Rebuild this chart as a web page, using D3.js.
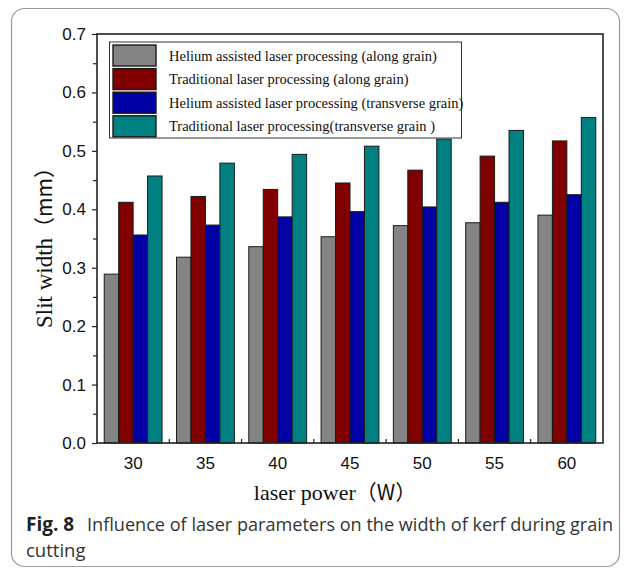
<!DOCTYPE html>
<html>
<head>
<meta charset="utf-8">
<script src="https://cdn.jsdelivr.net/npm/d3@7"></script>
<style>
  html, body { margin: 0; padding: 0; background: #fff; }
  svg { display: block; }
</style>
</head>
<body>
<svg id="chart" width="627" height="570"></svg>
<script>
// Laser power settings (W)
const powers = ["30", "35", "40", "45", "50", "55", "60"];

// Slit width (mm) per processing condition
const heliumAlong      = [0.289, 0.318, 0.336, 0.353, 0.372, 0.377, 0.390];
const traditionalAlong = [0.412, 0.422, 0.434, 0.445, 0.467, 0.491, 0.517];
const heliumTrans      = [0.356, 0.373, 0.387, 0.396, 0.404, 0.412, 0.425];
const traditionalTrans = [0.457, 0.479, 0.494, 0.508, 0.520, 0.535, 0.557];

const seriesNames = [
  "Helium assisted laser processing (along grain)",
  "Traditional laser processing (along grain)",
  "Helium assisted laser processing (transverse grain)",
  "Traditional laser processing(transverse grain )"
];
const seriesColors = ["#848484", "#800000", "#0000a4", "#008080"];
const seriesValues = [heliumAlong, traditionalAlong, heliumTrans, traditionalTrans];

const yTicks = [0.0, 0.1, 0.2, 0.3, 0.4, 0.5, 0.6, 0.7];

const svg = d3.select("#chart");

// outer figure frame
svg.append("rect")
  .attr("x", 11.5).attr("y", 8.5)
  .attr("width", 608).attr("height", 558)
  .attr("rx", 13).attr("ry", 13)
  .attr("fill", "#fff")
  .attr("stroke", "#9a9a9a")
  .attr("stroke-width", 1.2);

const plot = { left: 97, right: 603, top: 34, bottom: 443 };

const x0 = d3.scaleBand()
  .domain(powers)
  .range([plot.left, plot.right])
  .paddingInner(0.2)
  .paddingOuter(0.1);

const x1 = d3.scaleBand()
  .domain(d3.range(seriesNames.length))
  .range([0, x0.bandwidth()])
  .padding(0);

const y = d3.scaleLinear().domain([0, 0.7]).range([plot.bottom, plot.top]);

// bars
const groups = svg.append("g").selectAll("g")
  .data(powers)
  .join("g")
  .attr("transform", d => `translate(${x0(d)},0)`);

groups.selectAll("rect")
  .data((p, i) => seriesValues.map((vals, s) => ({ s, v: vals[i] })))
  .join("rect")
  .attr("x", d => x1(d.s))
  .attr("y", d => y(d.v))
  .attr("width", x1.bandwidth())
  .attr("height", d => y(0) - y(d.v))
  .attr("fill", d => seriesColors[d.s])
  .attr("stroke", "#1a1a1a")
  .attr("stroke-width", 1);

// y axis (ticks outward, minor ticks at half steps)
const yAxis = d3.axisLeft(y)
  .tickValues(yTicks)
  .tickFormat(d3.format(".1f"))
  .tickSize(5)
  .tickPadding(6);
const gy = svg.append("g")
  .attr("transform", `translate(${plot.left},0)`)
  .call(yAxis);
gy.select(".domain").remove();
gy.selectAll("text")
  .attr("font-family", "Liberation Sans, Arial, sans-serif")
  .attr("font-size", 17)
  .attr("fill", "#111");
gy.selectAll("line").attr("stroke", "#222").attr("stroke-width", 1.2);

const yMinor = d3.axisLeft(y)
  .tickValues(d3.range(0.05, 0.7, 0.1))
  .tickFormat("")
  .tickSize(4);
const gyMinor = svg.append("g")
  .attr("transform", `translate(${plot.left},0)`)
  .call(yMinor);
gyMinor.select(".domain").remove();
gyMinor.selectAll("line").attr("stroke", "#222").attr("stroke-width", 1.2);

// x axis labels at group centres
const xAxis = d3.axisBottom(x0).tickSize(0).tickPadding(14);
const gx = svg.append("g")
  .attr("transform", `translate(0,${plot.bottom})`)
  .call(xAxis);
gx.select(".domain").remove();
gx.selectAll("text")
  .attr("font-family", "Liberation Sans, Arial, sans-serif")
  .attr("font-size", 17)
  .attr("fill", "#111");

// inward ticks between groups
const boundaries = powers.slice(1).map(p => x0(p) - x0.step() * x0.paddingInner() / 2);
svg.append("g").selectAll("line")
  .data(boundaries)
  .join("line")
  .attr("x1", d => d).attr("x2", d => d)
  .attr("y1", plot.bottom).attr("y2", plot.bottom - 4)
  .attr("stroke", "#222").attr("stroke-width", 1.2);

// plot frame
svg.append("rect")
  .attr("x", plot.left).attr("y", plot.top)
  .attr("width", plot.right - plot.left)
  .attr("height", plot.bottom - plot.top)
  .attr("fill", "none")
  .attr("stroke", "#222")
  .attr("stroke-width", 1.6);

// legend
const legend = svg.append("g");
legend.append("rect")
  .attr("x", 109.5).attr("y", 42)
  .attr("width", 352).attr("height", 96)
  .attr("fill", "#fff")
  .attr("stroke", "#333")
  .attr("stroke-width", 1);
const rows = legend.selectAll("g.row")
  .data(seriesNames)
  .join("g")
  .attr("class", "row")
  .attr("transform", (d, i) => `translate(113,${45 + i * 23.6})`);
rows.append("rect")
  .attr("width", 43).attr("height", 21)
  .attr("fill", (d, i) => seriesColors[i])
  .attr("stroke", "#1a1a1a")
  .attr("stroke-width", 1.4);
rows.append("text")
  .attr("x", 56).attr("y", 15.5)
  .attr("font-family", "Liberation Serif, 'Times New Roman', serif")
  .attr("font-size", 14.5)
  .attr("fill", "#111")
  .text(d => d);

// axis titles
const xTitle = svg.append("text")
  .attr("x", (plot.left + plot.right) / 2 - 15)
  .attr("y", 500)
  .attr("text-anchor", "middle")
  .attr("font-size", 22)
  .attr("fill", "#111");
xTitle.append("tspan")
  .attr("font-family", "Liberation Serif, 'Times New Roman', serif")
  .text("laser power");
xTitle.append("tspan")
  .attr("font-family", "'Noto Sans CJK SC', sans-serif")
  .attr("font-size", 21)
  .text("（W）");

const yTitle = svg.append("text")
  .attr("transform", `translate(52,${(plot.top + plot.bottom) / 2 + 4}) rotate(-90)`)
  .attr("text-anchor", "middle")
  .attr("font-size", 23)
  .attr("fill", "#111");
yTitle.append("tspan")
  .attr("font-family", "Liberation Serif, 'Times New Roman', serif")
  .text("Slit width");
yTitle.append("tspan")
  .attr("font-family", "'Noto Sans CJK SC', sans-serif")
  .attr("font-size", 21)
  .text("（mm）");

// caption
const capFont = "'Open Sans', 'Noto Sans', sans-serif";
svg.append("text")
  .attr("x", 26).attr("y", 531)
  .attr("font-family", capFont)
  .attr("font-size", 19)
  .attr("font-weight", "bold")
  .attr("fill", "#222")
  .text("Fig. 8");
svg.append("text")
  .attr("x", 87).attr("y", 531)
  .attr("font-family", capFont)
  .attr("font-size", 18.5)
  .attr("fill", "#333")
  .attr("textLength", 526)
  .attr("lengthAdjust", "spacingAndGlyphs")
  .text("Influence of laser parameters on the width of kerf during grain");
svg.append("text")
  .attr("x", 26).attr("y", 557)
  .attr("font-family", capFont)
  .attr("font-size", 18.5)
  .attr("fill", "#333")
  .text("cutting");
</script>
</body>
</html>
